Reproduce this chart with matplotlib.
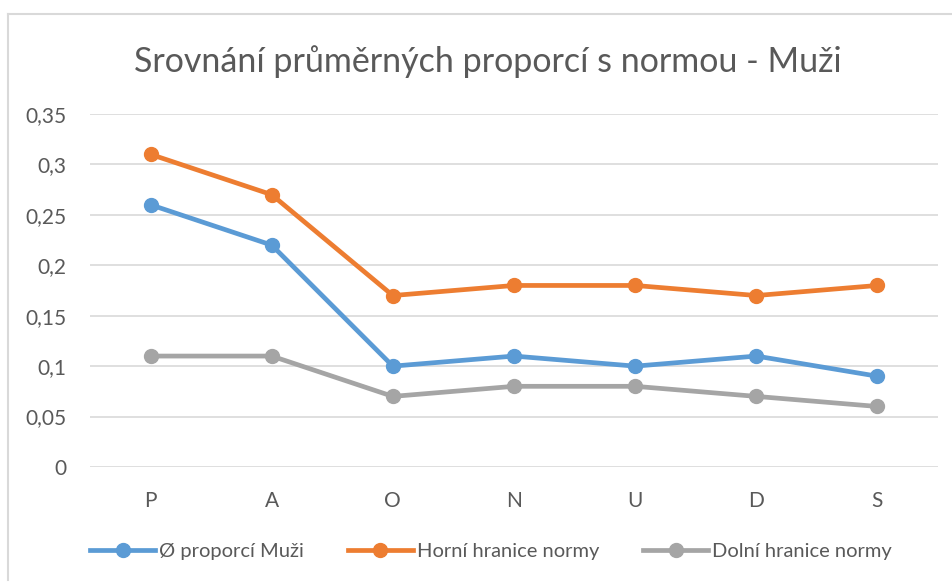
import matplotlib.pyplot as plt
from matplotlib.lines import Line2D
from matplotlib.ticker import FuncFormatter

# data
categories = ["P", "A", "O", "N", "U", "D", "S"]
prumer_muzi = [0.26, 0.22, 0.10, 0.11, 0.10, 0.11, 0.09]
horni_hranice = [0.31, 0.27, 0.17, 0.18, 0.18, 0.17, 0.18]
dolni_hranice = [0.11, 0.11, 0.07, 0.08, 0.08, 0.07, 0.06]

plt.rcParams['font.family'] = ['Lato', 'DejaVu Sans']
text_col = "#595959"

fig = plt.figure(figsize=(9.53, 5.83), dpi=100)
W, H = 953, 583

# chart frame edges (only top and left are visible in the crop)
fig.lines.append(Line2D([8 / W, 1.0], [1 - 14 / H, 1 - 14 / H], transform=fig.transFigure,
                        color="#D9D9D9", lw=1.5))
fig.lines.append(Line2D([8 / W, 8 / W], [1 - 14 / H, 1 - 580 / H], transform=fig.transFigure,
                        color="#D9D9D9", lw=1.5))

ax = fig.add_axes([90 / W, 1 - 467 / H, (938 - 90) / W, (467 - 114) / H])

x = range(len(categories))
ax.plot(x, prumer_muzi, color="#5B9BD5", lw=3.4, marker="o", ms=10, label="Ø proporcí Muži")
ax.plot(x, horni_hranice, color="#ED7D31", lw=3.4, marker="o", ms=10, label="Horní hranice normy")
ax.plot(x, dolni_hranice, color="#A5A5A5", lw=3.4, marker="o", ms=10, label="Dolní hranice normy")

ax.set_xlim(-0.5, len(categories) - 0.5)
ax.set_ylim(0, 0.35)
ax.set_yticks([0, 0.05, 0.1, 0.15, 0.2, 0.25, 0.3, 0.35])
ax.yaxis.set_major_formatter(FuncFormatter(lambda v, p: ("%g" % round(v, 2)).replace(".", ",")))
ax.set_xticks(list(x))
ax.set_xticklabels(categories)
ax.grid(axis="y", color="#D9D9D9", lw=1.2)
ax.set_axisbelow(True)
for s in ax.spines.values():
    s.set_visible(False)
ax.tick_params(length=0, labelsize=15, colors=text_col)
ax.tick_params(axis="y", pad=17)
ax.tick_params(axis="x", pad=17)

fig.text(488 / W, 1 - 62 / H, "Srovnání průměrných proporcí s normou - Muži",
         ha="center", va="center", fontsize=24.5, color=text_col)

leg = fig.legend(loc="center", bbox_to_anchor=(491 / W, 1 - 551 / H), ncol=3,
                 frameon=False, fontsize=14.5, handlelength=3.2, handletextpad=0.2,
                 columnspacing=2.2)
for t in leg.get_texts():
    t.set_color(text_col)

fig.savefig("out.png", dpi=100)
